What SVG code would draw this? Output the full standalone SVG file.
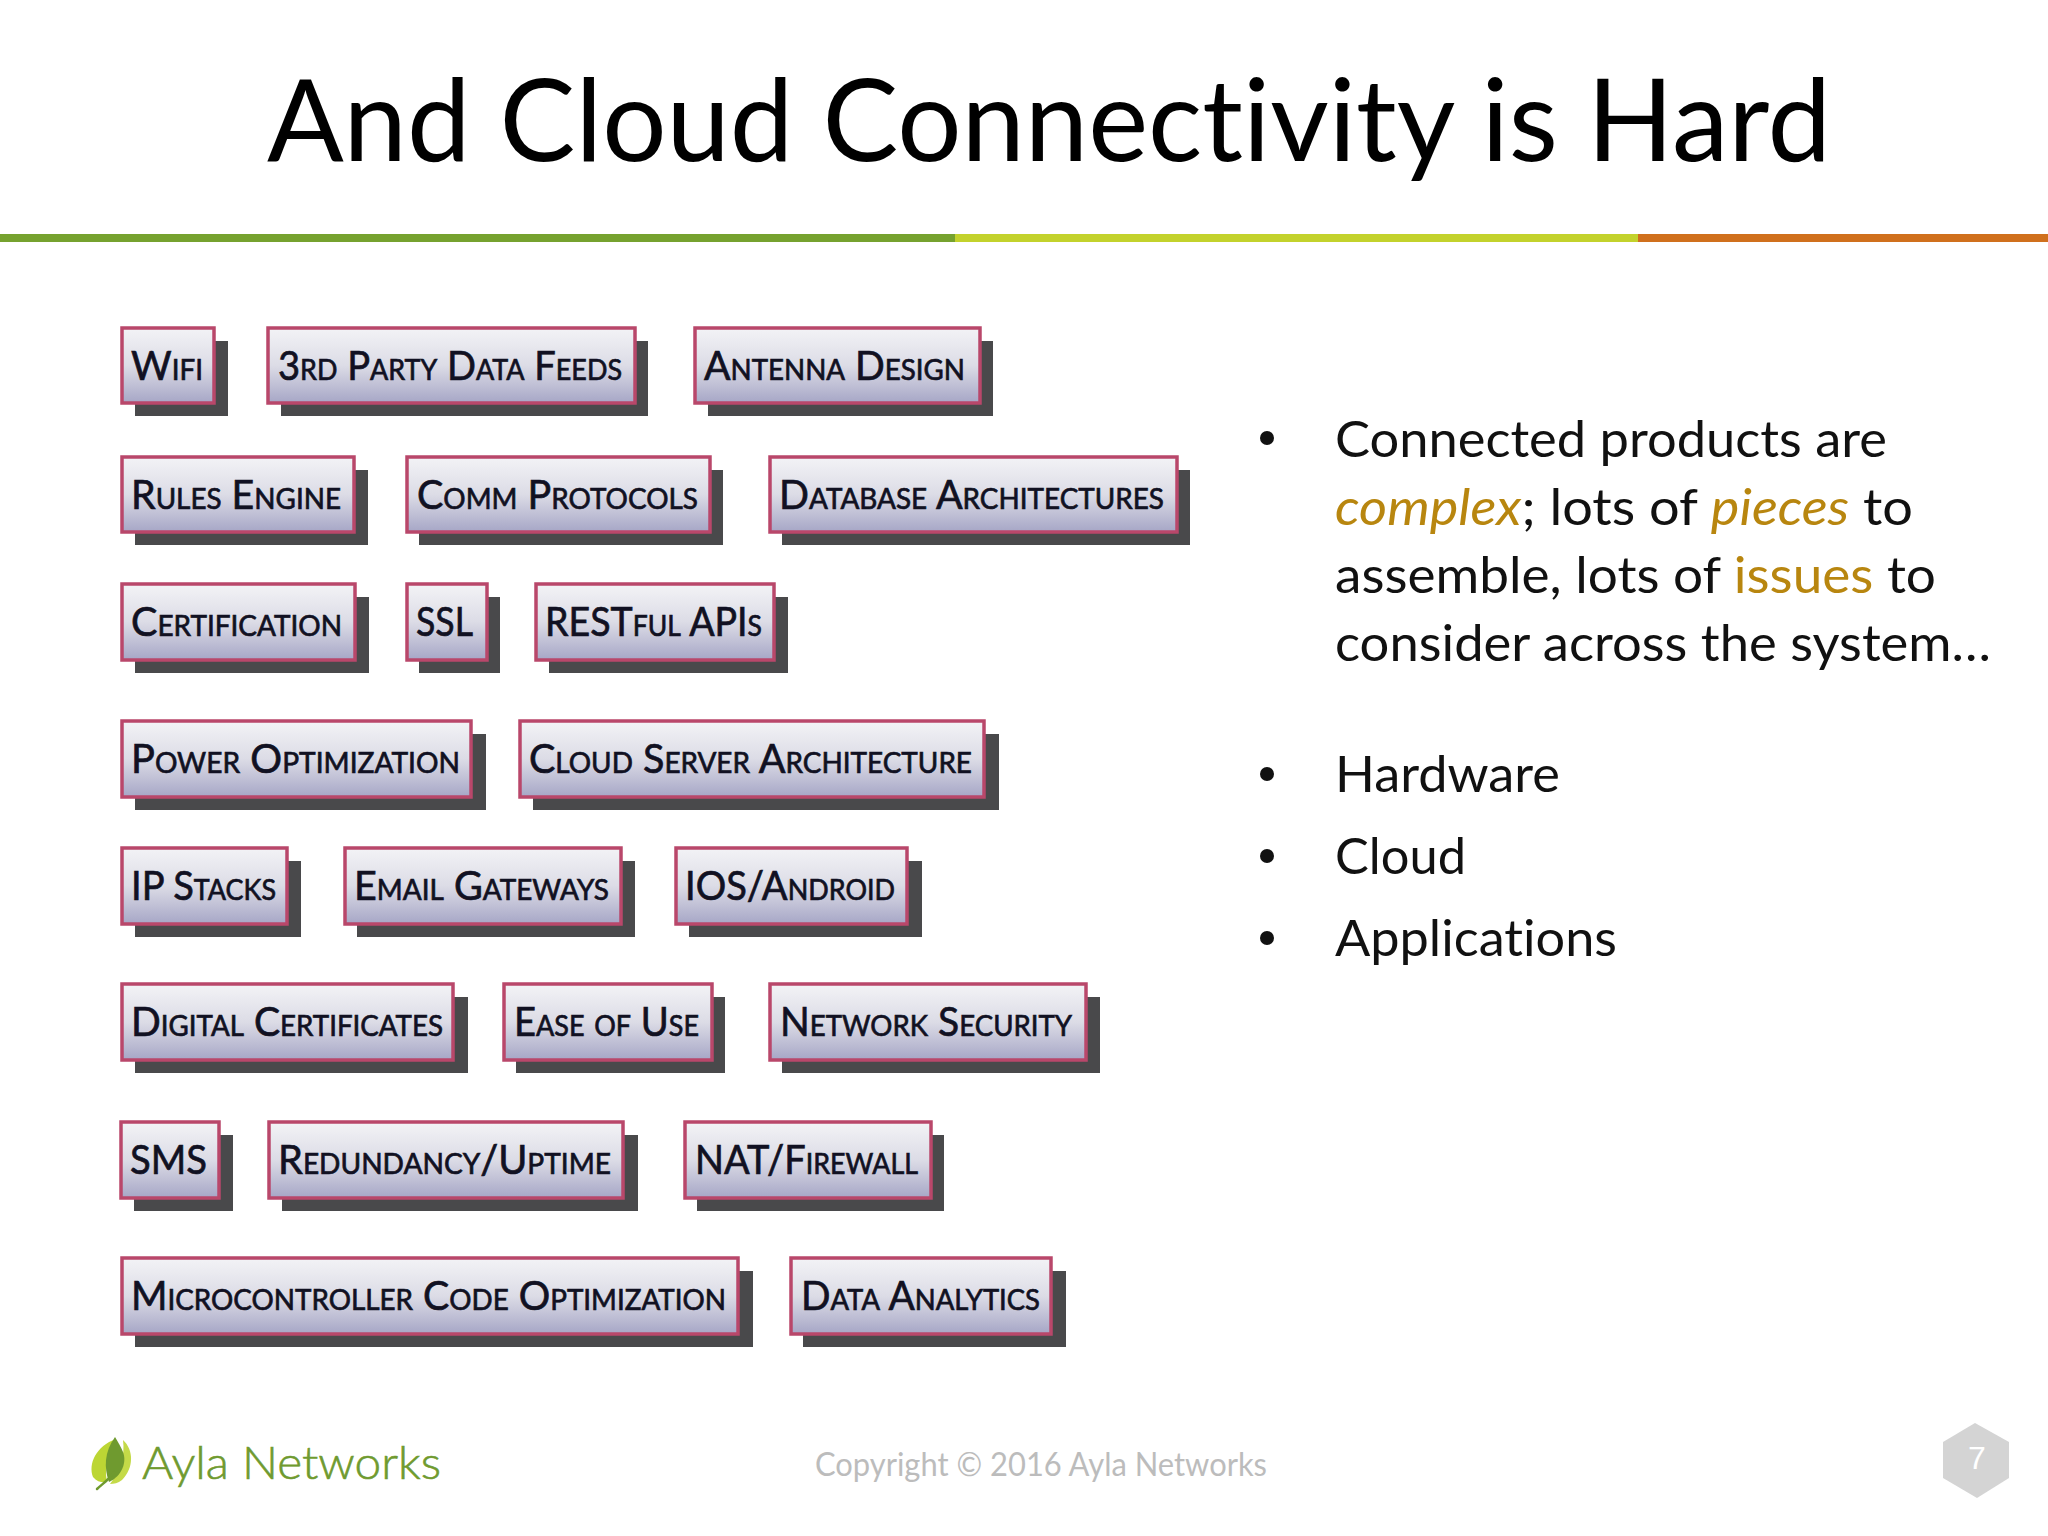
<svg xmlns="http://www.w3.org/2000/svg" width="2048" height="1536" viewBox="0 0 2048 1536">
<defs>
<linearGradient id="boxFill" x1="0" y1="0" x2="0" y2="1">
<stop offset="0" stop-color="#f3f3f6"/><stop offset="0.5" stop-color="#dcdce6"/><stop offset="1" stop-color="#a6a6c6"/>
</linearGradient>
<filter id="soft" x="-5%" y="-5%" width="110%" height="110%"><feGaussianBlur stdDeviation="0.7"/></filter>
</defs>
<style>
text{font-variant-ligatures:none}
.s{fill:#4a4a4c;filter:url(#soft)}
.b{fill:url(#boxFill);stroke:#b9476b;stroke-width:3.5;filter:url(#soft)}
.t{font-family:"Lato","Liberation Sans",sans-serif;font-variant:small-caps;font-size:41px;fill:#111122;stroke:#111122;stroke-width:0.7}
.body{font-family:"Lato","Liberation Sans",sans-serif;font-size:50px;fill:#111}
.o{fill:#b8860f}
.i{font-style:italic}
</style>
<rect width="2048" height="1536" fill="#fff"/>
<g id="title"><text x="267" y="161" font-family="Lato,'Liberation Sans',sans-serif" font-size="114" fill="#000" textLength="1564" lengthAdjust="spacingAndGlyphs">And Cloud Connectivity is Hard</text></g>
<g id="rule">
<rect x="0" y="234" width="955" height="8" fill="#76a22f"/>
<rect x="955" y="234" width="683" height="8" fill="#c3d22c"/>
<rect x="1638" y="234" width="410" height="8" fill="#d0701d"/>
</g>
<g id="connectors"/>
<g id="n-wifi"><rect class="s" x="135" y="341" width="93" height="75"/><rect class="b" x="122" y="328" width="92" height="75"/><text class="t" x="131" y="380" textLength="72" lengthAdjust="spacingAndGlyphs">Wifi</text></g>
<g id="n-3rd"><rect class="s" x="281" y="341" width="367" height="75"/><rect class="b" x="268" y="328" width="367" height="75"/><text class="t" x="278" y="380" textLength="344" lengthAdjust="spacingAndGlyphs">3rd Party Data Feeds</text></g>
<g id="n-antenna"><rect class="s" x="708" y="341" width="285" height="75"/><rect class="b" x="695" y="328" width="285" height="75"/><text class="t" x="704" y="380" textLength="261" lengthAdjust="spacingAndGlyphs">Antenna Design</text></g>
<g id="n-rules"><rect class="s" x="135" y="470" width="233" height="75"/><rect class="b" x="122" y="457" width="232" height="75"/><text class="t" x="131" y="509" textLength="210" lengthAdjust="spacingAndGlyphs">Rules Engine</text></g>
<g id="n-comm"><rect class="s" x="419" y="470" width="304" height="75"/><rect class="b" x="407" y="457" width="303" height="75"/><text class="t" x="417" y="509" textLength="281" lengthAdjust="spacingAndGlyphs">Comm Protocols</text></g>
<g id="n-database"><rect class="s" x="782" y="470" width="408" height="75"/><rect class="b" x="770" y="457" width="407" height="75"/><text class="t" x="779" y="509" textLength="385" lengthAdjust="spacingAndGlyphs">Database Architectures</text></g>
<g id="n-cert"><rect class="s" x="135" y="597" width="234" height="76"/><rect class="b" x="122" y="584" width="233" height="76"/><text class="t" x="131" y="636" textLength="211" lengthAdjust="spacingAndGlyphs">Certification</text></g>
<g id="n-ssl"><rect class="s" x="419" y="597" width="81" height="76"/><rect class="b" x="407" y="584" width="80" height="76"/><text class="t" x="416" y="636" textLength="57" lengthAdjust="spacingAndGlyphs">SSL</text></g>
<g id="n-rest"><rect class="s" x="549" y="597" width="239" height="76"/><rect class="b" x="536" y="584" width="238" height="76"/><text class="t" x="545" y="636" textLength="217" lengthAdjust="spacingAndGlyphs">RESTful APIs</text></g>
<g id="n-power"><rect class="s" x="135" y="734" width="351" height="76"/><rect class="b" x="122" y="721" width="349" height="76"/><text class="t" x="131" y="773" textLength="329" lengthAdjust="spacingAndGlyphs">Power Optimization</text></g>
<g id="n-cloud"><rect class="s" x="533" y="734" width="466" height="76"/><rect class="b" x="520" y="721" width="464" height="76"/><text class="t" x="529" y="773" textLength="443" lengthAdjust="spacingAndGlyphs">Cloud Server Architecture</text></g>
<g id="n-ip"><rect class="s" x="135" y="861" width="166" height="76"/><rect class="b" x="122" y="848" width="165" height="76"/><text class="t" x="131" y="900" textLength="145" lengthAdjust="spacingAndGlyphs">IP Stacks</text></g>
<g id="n-email"><rect class="s" x="357" y="861" width="278" height="76"/><rect class="b" x="345" y="848" width="276" height="76"/><text class="t" x="354" y="900" textLength="255" lengthAdjust="spacingAndGlyphs">Email Gateways</text></g>
<g id="n-ios"><rect class="s" x="689" y="861" width="233" height="76"/><rect class="b" x="676" y="848" width="231" height="76"/><text class="t" x="685" y="900" textLength="210" lengthAdjust="spacingAndGlyphs">IOS/Android</text></g>
<g id="n-digital"><rect class="s" x="135" y="997" width="333" height="76"/><rect class="b" x="122" y="984" width="331" height="76"/><text class="t" x="131" y="1036" textLength="312" lengthAdjust="spacingAndGlyphs">Digital Certificates</text></g>
<g id="n-ease"><rect class="s" x="516" y="997" width="209" height="76"/><rect class="b" x="504" y="984" width="208" height="76"/><text class="t" x="514" y="1036" textLength="185" lengthAdjust="spacingAndGlyphs">Ease of Use</text></g>
<g id="n-network"><rect class="s" x="782" y="997" width="318" height="76"/><rect class="b" x="770" y="984" width="316" height="76"/><text class="t" x="780" y="1036" textLength="292" lengthAdjust="spacingAndGlyphs">Network Security</text></g>
<g id="n-sms"><rect class="s" x="134" y="1135" width="99" height="76"/><rect class="b" x="121" y="1122" width="98" height="76"/><text class="t" x="130" y="1174" textLength="77" lengthAdjust="spacingAndGlyphs">SMS</text></g>
<g id="n-redundancy"><rect class="s" x="282" y="1135" width="356" height="76"/><rect class="b" x="269" y="1122" width="354" height="76"/><text class="t" x="278" y="1174" textLength="333" lengthAdjust="spacingAndGlyphs">Redundancy/Uptime</text></g>
<g id="n-nat"><rect class="s" x="697" y="1135" width="247" height="76"/><rect class="b" x="685" y="1122" width="246" height="76"/><text class="t" x="695" y="1174" textLength="223" lengthAdjust="spacingAndGlyphs">NAT/Firewall</text></g>
<g id="n-micro"><rect class="s" x="135" y="1271" width="618" height="76"/><rect class="b" x="122" y="1258" width="616" height="76"/><text class="t" x="131" y="1310" textLength="595" lengthAdjust="spacingAndGlyphs">Microcontroller Code Optimization</text></g>
<g id="n-data"><rect class="s" x="803" y="1271" width="263" height="76"/><rect class="b" x="791" y="1258" width="260" height="76"/><text class="t" x="801" y="1310" textLength="239" lengthAdjust="spacingAndGlyphs">Data Analytics</text></g>
<g id="bullets">
<circle cx="1267" cy="438" r="7" fill="#111"/><circle cx="1267" cy="774" r="7" fill="#111"/><circle cx="1267" cy="856" r="7" fill="#111"/><circle cx="1267" cy="938" r="7" fill="#111"/>
<text class="body" x="1335" y="457" textLength="552" lengthAdjust="spacingAndGlyphs">Connected products are</text>
<text class="body" x="1335" y="525" textLength="578" lengthAdjust="spacingAndGlyphs"><tspan class="o i">complex</tspan>; lots of <tspan class="o i">pieces</tspan> to</text>
<text class="body" x="1335" y="593" textLength="601" lengthAdjust="spacingAndGlyphs">assemble, lots of <tspan class="o">issues</tspan> to</text>
<text class="body" x="1335" y="661" textLength="656" lengthAdjust="spacingAndGlyphs">consider across the system…</text>
<text class="body" x="1335" y="792" textLength="225" lengthAdjust="spacingAndGlyphs">Hardware</text>
<text class="body" x="1335" y="874" textLength="131" lengthAdjust="spacingAndGlyphs">Cloud</text>
<text class="body" x="1335" y="956" textLength="282" lengthAdjust="spacingAndGlyphs">Applications</text>
</g>
<g id="logo">
<path d="M116 1439C96 1446 88 1464 93 1477C97 1482 103 1483 107 1482C104 1466 108 1452 116 1439Z" fill="#bcd634"/>
<path d="M123 1440C134 1450 134 1468 122 1480C118 1483 114 1484 110 1484C121 1470 125 1455 123 1440Z" fill="#c4da48"/>
<path d="M115 1437C104 1452 104 1468 109 1482C122 1476 127 1462 123 1452C121 1447 118 1442 115 1437Z" fill="#6f9a2f"/>
<path d="M97 1489C102 1484 109 1480 114 1472" fill="none" stroke="#6f9a2f" stroke-width="2.5" stroke-linecap="round"/>
<text x="142" y="1479" font-family="Lato,'Liberation Sans',sans-serif" font-size="45" font-weight="300" fill="#6f9a2f" stroke="#6f9a2f" stroke-width="0.6" textLength="299" lengthAdjust="spacingAndGlyphs">Ayla Networks</text>
</g>
<g id="footer"><text x="815" y="1476" font-family="Lato,'Liberation Sans',sans-serif" font-size="32" fill="#bcbcbc" textLength="452" lengthAdjust="spacingAndGlyphs">Copyright © 2016 Ayla Networks</text></g>
<g id="page"><polygon points="1975,1423 2009,1442 2009,1478 1977,1498 1943,1478 1943,1442" fill="#d4d4d4"/><text x="1977" y="1469" text-anchor="middle" font-family="'Liberation Sans',sans-serif" font-size="32" fill="#fff">7</text></g>
</svg>
